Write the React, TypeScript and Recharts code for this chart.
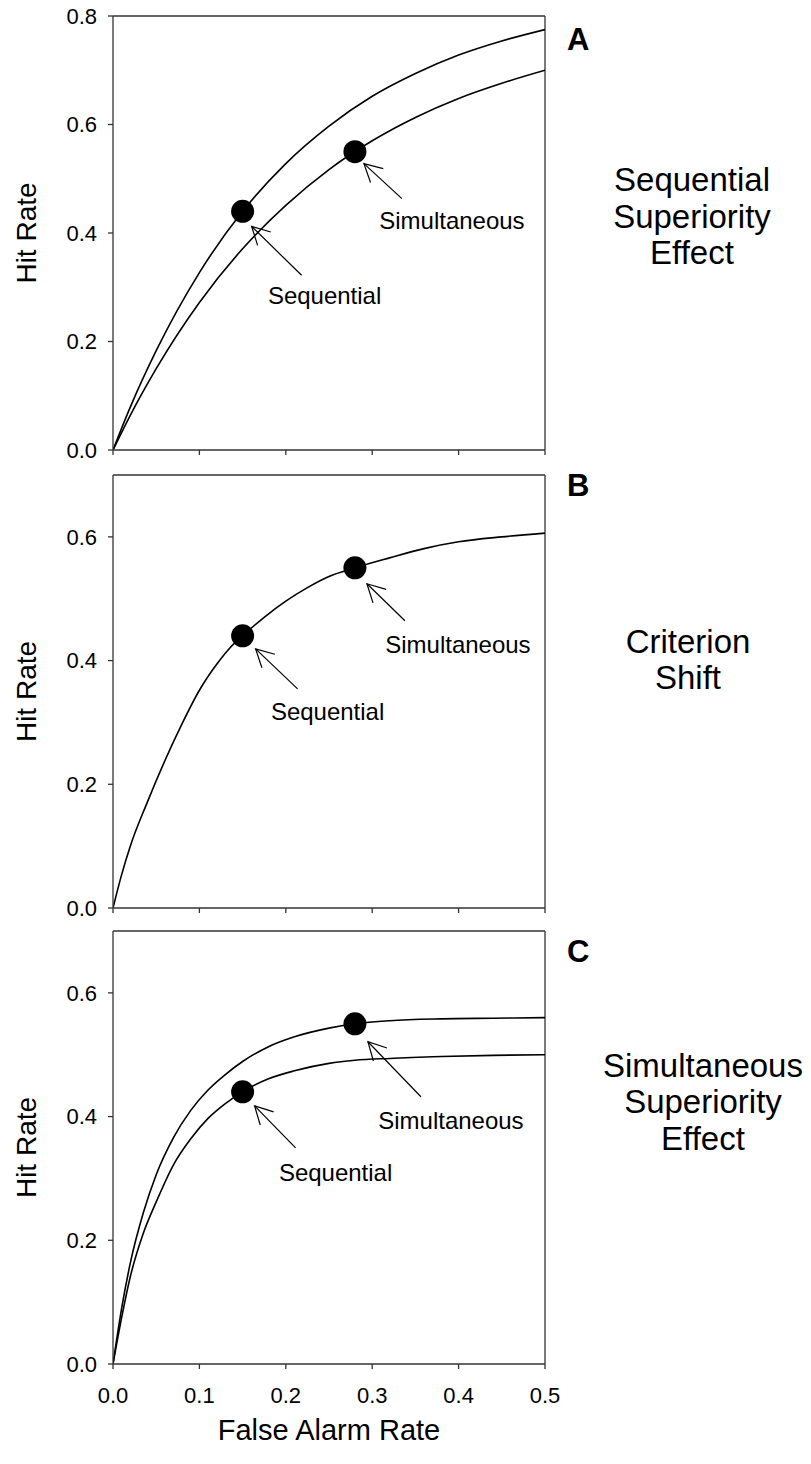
import React from 'react';
import { ComposedChart, Line, Scatter, XAxis, YAxis, ReferenceLine } from 'recharts';

const FONT = '"Liberation Sans", Arial, Helvetica, sans-serif';
const AXIS = '#333333';

// ---------- data ----------
const xTicks = [0, 0.1, 0.2, 0.3, 0.4, 0.5];
const yTicksA = [0, 0.2, 0.4, 0.6, 0.8];
const yTicksBC = [0, 0.2, 0.4, 0.6];

const pointNames = ['Sequential', 'Simultaneous'];
const pointFalseAlarm = [0.15, 0.28];
const pointHit = [0.44, 0.55];

// Panel A curves
const aUpperX = [0, 0.02, 0.05, 0.1, 0.15, 0.2, 0.25, 0.3, 0.35, 0.4, 0.45, 0.5];
const aUpperY = [0, 0.079, 0.183, 0.327, 0.44, 0.528, 0.597, 0.652, 0.694, 0.728, 0.754, 0.775];
const aLowerX = [0, 0.02, 0.05, 0.1, 0.15, 0.2, 0.25, 0.3, 0.35, 0.4, 0.45, 0.5];
const aLowerY = [0, 0.064, 0.15, 0.272, 0.371, 0.451, 0.517, 0.57, 0.613, 0.648, 0.676, 0.7];

// Panel B curve
const bX = [0, 0.01, 0.02, 0.04, 0.06, 0.08, 0.1, 0.12, 0.135, 0.15, 0.175, 0.2, 0.225, 0.25, 0.28, 0.32, 0.36, 0.4, 0.45, 0.5];
const bY = [0, 0.054, 0.1, 0.172, 0.238, 0.298, 0.352, 0.394, 0.42, 0.44, 0.47, 0.496, 0.518, 0.536, 0.55, 0.566, 0.581, 0.592, 0.6, 0.606];

// Panel C curves
const cUpperX = [0, 0.01, 0.02, 0.035, 0.05, 0.07, 0.09, 0.11, 0.13, 0.15, 0.18, 0.21, 0.25, 0.28, 0.32, 0.38, 0.44, 0.5];
const cUpperY = [0, 0.09, 0.163, 0.244, 0.306, 0.366, 0.41, 0.443, 0.468, 0.489, 0.513, 0.529, 0.543, 0.55, 0.555, 0.558, 0.559, 0.56];
const cLowerX = [0, 0.01, 0.02, 0.035, 0.05, 0.07, 0.09, 0.11, 0.13, 0.15, 0.18, 0.21, 0.25, 0.28, 0.32, 0.38, 0.44, 0.5];
const cLowerY = [0, 0.075, 0.141, 0.211, 0.262, 0.322, 0.364, 0.397, 0.421, 0.44, 0.461, 0.474, 0.486, 0.491, 0.494, 0.497, 0.499, 0.5];

const zip = (xs: number[], ys: number[]) => xs.map((x, i) => ({ x, y: ys[i] }));
const points = pointNames.map((name, i) => ({ name, x: pointFalseAlarm[i], y: pointHit[i] }));

// ---------- layout (pixel offsets, not data) ----------
type Ann = { tip: [number, number]; tail: [number, number]; text: [number, number] };

const panels = [
  {
    key: 'A',
    letter: 'A',
    letterY: 34,
    right: ['Sequential', 'Superiority', 'Effect'],
    rightX: 692,
    rightY: 175,
    yMax: 0.8,
    yTicks: yTicksA,
    curves: [zip(aUpperX, aUpperY), zip(aLowerX, aLowerY)],
    ann: {
      Sequential: { tip: [9, 15], tail: [59, 64], text: [82, 92.5] },
      Simultaneous: { tip: [9, 12], tail: [47, 47], text: [97, 77] },
    } as Record<string, Ann>,
    top: 0,
    height: 464,
    marginTop: 16,
    marginBottom: 0,
    xAxisHeight: 14,
    showX: false,
  },
  {
    key: 'B',
    letter: 'B',
    letterY: 21,
    right: ['Criterion', 'Shift'],
    rightX: 688,
    rightY: 177.5,
    yMax: 0.7,
    yTicks: yTicksBC,
    curves: [zip(bX, bY)],
    ann: {
      Sequential: { tip: [13, 13], tail: [55, 53], text: [85, 84] },
      Simultaneous: { tip: [12, 16], tail: [50, 53], text: [103, 85] },
    } as Record<string, Ann>,
    top: 465,
    height: 457,
    marginTop: 10,
    marginBottom: 0,
    xAxisHeight: 14,
    showX: false,
  },
  {
    key: 'C',
    letter: 'C',
    letterY: 31,
    right: ['Simultaneous', 'Superiority', 'Effect'],
    rightX: 703,
    rightY: 145.5,
    yMax: 0.7,
    yTicks: yTicksBC,
    curves: [zip(cUpperX, cUpperY), zip(cLowerX, cLowerY)],
    ann: {
      Sequential: { tip: [12, 14], tail: [53, 56], text: [93, 89] },
      Simultaneous: { tip: [13, 18], tail: [66, 73], text: [96, 105] },
    } as Record<string, Ann>,
    top: 922,
    height: 542,
    marginTop: 9,
    marginBottom: 10,
    xAxisHeight: 90,
    showX: true,
  },
];

const WIDTH = 811;
const LEFT = 113;
const RIGHT_MARGIN = 266;

function makeShape(ann: Record<string, Ann>) {
  return (props: any) => {
    const { cx, cy, payload } = props;
    const a = ann[payload.name];
    const tx = cx + a.tip[0];
    const ty = cy + a.tip[1];
    const lx = cx + a.tail[0];
    const ly = cy + a.tail[1];
    const ang = Math.atan2(ly - ty, lx - tx);
    const L = 20;
    const s = (28 * Math.PI) / 180;
    const a1x = tx + L * Math.cos(ang - s);
    const a1y = ty + L * Math.sin(ang - s);
    const a2x = tx + L * Math.cos(ang + s);
    const a2y = ty + L * Math.sin(ang + s);
    return (
      <g>
        <circle cx={cx} cy={cy} r={11.5} fill="#000" />
        <line x1={tx} y1={ty} x2={lx} y2={ly} stroke="#000" strokeWidth={1.2} />
        <polyline
          points={`${a1x},${a1y} ${tx},${ty} ${a2x},${a2y}`}
          fill="none"
          stroke="#000"
          strokeWidth={1.2}
        />
        <text
          x={cx + a.text[0]}
          y={cy + a.text[1]}
          textAnchor="middle"
          fontSize={24}
          fontFamily={FONT}
          fill="#000"
        >
          {payload.name}
        </text>
      </g>
    );
  };
}

function Panel({ p }: { p: (typeof panels)[number] }) {
  const plotH = p.height - p.marginTop - p.marginBottom - p.xAxisHeight;
  const sideLabel = () => (
    <g>
      <text
        x={567}
        y={p.marginTop + p.letterY}
        fontSize={31}
        fontWeight="bold"
        fontFamily={FONT}
        fill="#000"
      >
        {p.letter}
      </text>
      {p.right.map((line, i) => (
        <text
          key={line}
          x={p.rightX}
          y={p.marginTop + p.rightY + i * 36.5}
          textAnchor="middle"
          fontSize={33}
          fontFamily={FONT}
          fill="#000"
        >
          {line}
        </text>
      ))}
    </g>
  );
  const yLabel = () => (
    <text
      x={26}
      y={p.marginTop + plotH / 2}
      transform={`rotate(-90 26 ${p.marginTop + plotH / 2})`}
      textAnchor="middle"
      dy="0.35em"
      fontSize={28}
      fontFamily={FONT}
      fill="#000"
    >
      Hit Rate
    </text>
  );
  const xLabel = () => (
    <text
      x={LEFT + (WIDTH - LEFT - RIGHT_MARGIN) / 2}
      y={p.marginTop + plotH + 76}
      textAnchor="middle"
      fontSize={29}
      fontFamily={FONT}
      fill="#000"
    >
      False Alarm Rate
    </text>
  );
  return (
    <div style={{ position: 'absolute', left: 0, top: p.top, width: WIDTH, height: p.height }}>
      <ComposedChart
        width={WIDTH}
        height={p.height}
        margin={{ top: p.marginTop, right: RIGHT_MARGIN, bottom: p.marginBottom, left: 0 }}
      >
        <XAxis
          type="number"
          dataKey="x"
          domain={[0, 0.5]}
          ticks={xTicks}
          interval={0}
          allowDataOverflow
          height={p.xAxisHeight}
          tickSize={5}
          tickMargin={18}
          axisLine={{ stroke: AXIS, strokeWidth: 1.3 }}
          tickLine={{ stroke: AXIS, strokeWidth: 1.3 }}
          tick={{ fill: '#000', fontSize: 22, fontFamily: FONT }}
          tickFormatter={(v: number) => (p.showX ? v.toFixed(1) : '')}
          label={p.showX ? { content: xLabel } : undefined}
        />
        <YAxis
          type="number"
          domain={[0, p.yMax]}
          ticks={p.yTicks}
          interval={0}
          allowDataOverflow
          width={LEFT}
          tickSize={5}
          tickMargin={11}
          axisLine={{ stroke: AXIS, strokeWidth: 1.3 }}
          tickLine={{ stroke: AXIS, strokeWidth: 1.3 }}
          tick={{ fill: '#000', fontSize: 22, fontFamily: FONT }}
          tickFormatter={(v: number) => v.toFixed(1)}
          label={{ content: yLabel }}
        />
        <ReferenceLine y={p.yMax} stroke={AXIS} strokeWidth={1.3} />
        <ReferenceLine x={0.5} stroke={AXIS} strokeWidth={1.3} label={{ content: sideLabel }} />
        {p.curves.map((c, i) => (
          <Line
            key={i}
            data={c}
            dataKey="y"
            type="monotone"
            stroke="#000"
            strokeWidth={1.6}
            dot={false}
            activeDot={false}
            isAnimationActive={false}
          />
        ))}
        <Scatter data={points} dataKey="y" shape={makeShape(p.ann)} isAnimationActive={false} />
      </ComposedChart>
    </div>
  );
}

export default function App() {
  return (
    <div style={{ position: 'absolute', left: 0, top: 0, width: WIDTH, height: 1464, background: '#fff' }}>
      {panels.map((p) => (
        <Panel key={p.key} p={p} />
      ))}
    </div>
  );
}
